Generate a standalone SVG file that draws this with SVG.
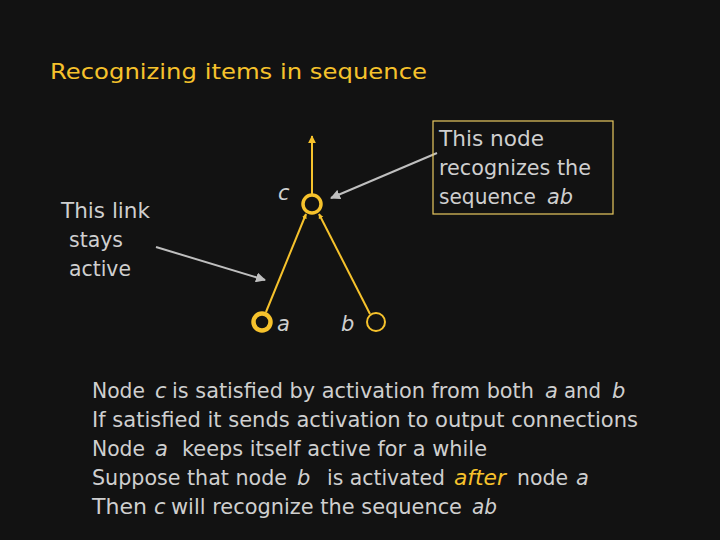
<svg xmlns="http://www.w3.org/2000/svg" width="720" height="540" viewBox="0 0 720 540">
<style>
.t{font-family:"DejaVu Sans","Liberation Sans",sans-serif;font-size:21px;fill:#cfcfcf}
.i{font-style:italic}
.g{fill:#f6c22c}
.lnk{stroke:#f6c22c;stroke-width:2;fill:none}
.ptr{stroke:#bfbfbf;stroke-width:2;fill:none}
</style>
<defs>
<marker id="ah" viewBox="0 0 10 10" refX="9" refY="5" markerWidth="5" markerHeight="5" orient="auto"><path d="M0,0 L10,5 L0,10 z" fill="#bfbfbf"/></marker>
<marker id="ay" viewBox="0 0 10 10" refX="9" refY="5" markerWidth="4" markerHeight="4" orient="auto"><path d="M0,0 L10,5 L0,10 z" fill="#f6c22c"/></marker>
<marker id="as" viewBox="0 0 10 10" refX="9" refY="5" markerWidth="2.5" markerHeight="3" orient="auto"><path d="M0,0 L10,5 L0,10 z" fill="#f6c22c"/></marker>
</defs>
<rect width="720" height="540" fill="#121212"/>
<text class="t g" x="50" y="79" font-size="24" textLength="377" lengthAdjust="spacingAndGlyphs">Recognizing items in sequence</text>
<g id="connectors">
<line class="lnk" x1="312" y1="194" x2="312" y2="136" marker-end="url(#ay)"/>
<line class="lnk" x1="266" y1="312" x2="306" y2="214" marker-end="url(#as)"/>
<line class="lnk" x1="370" y1="314" x2="319" y2="214" marker-end="url(#as)"/>
<line class="ptr" x1="437" y1="153" x2="331" y2="198" marker-end="url(#ah)"/>
<line class="ptr" x1="156" y1="247" x2="265" y2="280" marker-end="url(#ah)"/>
</g>
<g id="node-c">
<circle cx="312" cy="204" r="9" fill="none" stroke="#f6c22c" stroke-width="3.5"/>
<text class="t i" x="278" y="200">c</text>
</g>
<g id="node-a">
<circle cx="262" cy="322" r="8.5" fill="none" stroke="#f6c22c" stroke-width="4.5"/>
<text class="t i" x="277" y="331">a</text>
</g>
<g id="node-b">
<circle cx="376" cy="322" r="9" fill="none" stroke="#f6c22c" stroke-width="2"/>
<text class="t i" x="341" y="331">b</text>
</g>
<g id="note-node">
<rect x="433" y="121" width="180" height="93" fill="none" stroke="#e8c860" stroke-width="1.2"/>
<text class="t" x="439" y="146" textLength="105" lengthAdjust="spacingAndGlyphs">This node</text>
<text class="t" x="439" y="175" textLength="152" lengthAdjust="spacingAndGlyphs">recognizes the</text>
<text class="t" x="439" y="204" textLength="97" lengthAdjust="spacingAndGlyphs">sequence</text>
<text class="t i" x="547" y="204" textLength="26" lengthAdjust="spacingAndGlyphs">ab</text>
</g>
<g id="note-link">
<text class="t" x="61" y="218" textLength="89" lengthAdjust="spacingAndGlyphs">This link</text>
<text class="t" x="69" y="247" textLength="54" lengthAdjust="spacingAndGlyphs">stays</text>
<text class="t" x="69" y="276" textLength="62" lengthAdjust="spacingAndGlyphs">active</text>
</g>
<g id="description">
<text class="t" x="92" y="398" textLength="53" lengthAdjust="spacingAndGlyphs">Node</text>
<text class="t i" x="155" y="398">c</text>
<text class="t" x="172" y="398" textLength="362" lengthAdjust="spacingAndGlyphs">is satisfied by activation from both</text>
<text class="t i" x="545" y="398">a</text>
<text class="t" x="564" y="398" textLength="37" lengthAdjust="spacingAndGlyphs">and</text>
<text class="t i" x="612" y="398">b</text>
<text class="t" x="92" y="427" textLength="546" lengthAdjust="spacingAndGlyphs">If satisfied it sends activation to output connections</text>
<text class="t" x="92" y="456" textLength="53" lengthAdjust="spacingAndGlyphs">Node</text>
<text class="t i" x="155" y="456">a</text>
<text class="t" x="182" y="456" textLength="305" lengthAdjust="spacingAndGlyphs">keeps itself active for a while</text>
<text class="t" x="92" y="485" textLength="195" lengthAdjust="spacingAndGlyphs">Suppose that node</text>
<text class="t i" x="297" y="485">b</text>
<text class="t" x="327" y="485" textLength="118" lengthAdjust="spacingAndGlyphs">is activated</text>
<text class="t i g" x="454" y="485" textLength="52" lengthAdjust="spacingAndGlyphs">after</text>
<text class="t" x="517" y="485" textLength="51" lengthAdjust="spacingAndGlyphs">node</text>
<text class="t i" x="576" y="485">a</text>
<text class="t" x="92" y="514" textLength="55" lengthAdjust="spacingAndGlyphs">Then</text>
<text class="t i" x="154" y="514">c</text>
<text class="t" x="171" y="514" textLength="291" lengthAdjust="spacingAndGlyphs">will recognize the sequence</text>
<text class="t i" x="472" y="514" textLength="25" lengthAdjust="spacingAndGlyphs">ab</text>
</g>
</svg>
